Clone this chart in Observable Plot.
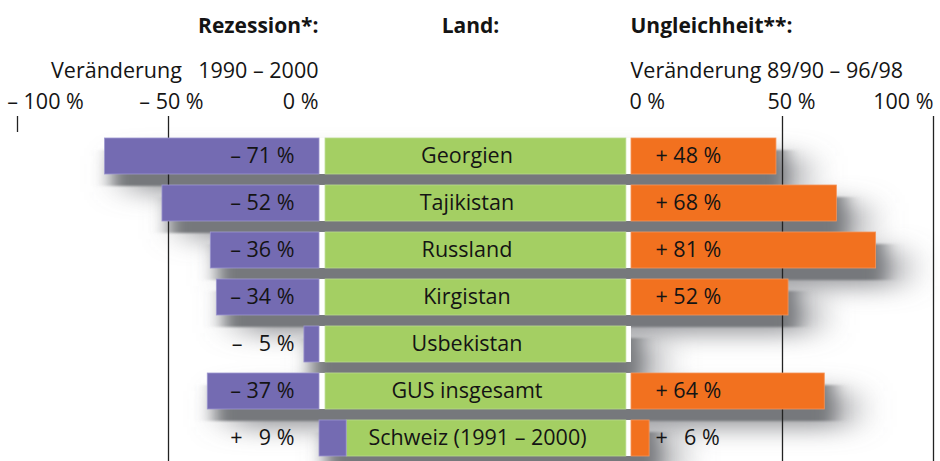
<!DOCTYPE html>
<html>
<head>
<meta charset="utf-8">
<script src="https://cdn.jsdelivr.net/npm/d3@7"></script>
<script src="https://cdn.jsdelivr.net/npm/@observablehq/plot@0.6"></script>
<style>
  html, body { margin: 0; padding: 0; background: #fff; }
</style>
</head>
<body>
<div id="chart"></div>
<script>
// ---- data ----
const countries = ["Georgien", "Tajikistan", "Russland", "Kirgistan", "Usbekistan", "GUS insgesamt", "Schweiz (1991 – 2000)"];
const recession = [-71, -52, -36, -34, -5, -37, 9];
const inequality = [48, 68, 81, 52, null, 64, 6];
const recessionLabels = ["– 71 %", "– 52 %", "– 36 %", "– 34 %", "–\u2002 5 %", "– 37 %", "+\u2002 9 %"];
const inequalityLabels = ["+ 48 %", "+ 68 %", "+ 81 %", "+ 52 %", null, "+ 64 %", "+\u2002 6 %"];
const leftTicks = [-100, -50, 0];
const leftTickLabels = ["– 100 %", "– 50 %", "0 %"];
const rightTicks = [0, 50, 100];
const rightTickLabels = ["0 %", "50 %", "100 %"];
const headerLeft = "Rezession*:";
const headerMid = "Land:";
const headerRight = "Ungleichheit**:";
const subLeft = "Veränderung\u2002 1990 – 2000";
const subRight = "Veränderung 89/90 – 96/98";

// ---- layout ----
const RIGHT0 = 103.3;          // origin of right panel in x units
const GREEN_START = 2, GREEN_END = 101.6;
const PURPLE = "#746bb2", GREEN = "#a4cf63", ORANGE = "#f2711f", INK = "#141414";
const FONT = "'Open Sans', sans-serif";

const rows = countries.map((c, i) => ({
  country: c, rec: recession[i], ineq: inequality[i],
  recLabel: recessionLabels[i], ineqLabel: inequalityLabels[i]
}));
const withIneq = rows.filter(d => d.ineq != null);
const greenX1 = d => d.rec > 0 ? d.rec : GREEN_START;
const rowStart = d => Math.min(d.rec, 0);
const rowEnd = d => d.ineq != null ? RIGHT0 + d.ineq : RIGHT0;

const leftTickData = leftTicks.map((v, i) => ({x: v, label: leftTickLabels[i]}));
const rightTickData = rightTicks.map((v, i) => ({x: RIGHT0 + v, label: rightTickLabels[i]}));
const leftTickAnchor = ["middle", "middle", "end"], leftTickDx = [28, 3, -1];
const rightTickAnchor = ["start", "middle", "end"], rightTickDx = [-2, 9, 0];

const svg = Plot.plot({
  width: 940,
  height: 461,
  marginTop: 116,
  marginBottom: 0,
  marginLeft: 0,
  marginRight: 0,
  style: {fontFamily: FONT, background: "#fff", overflow: "visible"},
  x: {domain: [-100, 200 + RIGHT0 - 100], range: [17, 933], axis: null},
  y: {domain: countries, range: [130.25, 462.75], paddingInner: 0.242, paddingOuter: 0.121, axis: null},
  marks: [
    // shadows
    Plot.barX(rows, {x1: rowStart, x2: rowEnd, y: "country", fill: "#7b7d81", fillOpacity: 0.85,
      dx: 24, dy: 18, ariaDescription: "shadow-b"}),
    Plot.barX(rows, {x1: rowStart, x2: rowEnd, y: "country", fill: "#76787c",
      dx: 8, dy: 12, ariaDescription: "shadow-a"}),
    // grid lines
    Plot.ruleX([-100], {stroke: "#222", strokeWidth: 1.3, insetBottom: 461 - 116 - 16}),
    Plot.ruleX([-50, RIGHT0 + 50, RIGHT0 + 100], {stroke: "#222", strokeWidth: 1.3}),
    // white base under middle column
    Plot.barX(rows, {x1: 0, x2: RIGHT0, y: "country", fill: "#fff"}),
    // green country bars
    Plot.barX(rows, {x1: greenX1, x2: GREEN_END, y: "country", fill: GREEN, stroke: "#b9da8c", strokeWidth: 0.8}),
    // recession bars
    Plot.barX(rows, {x1: d => Math.min(d.rec, 0), x2: d => Math.max(d.rec, 0), y: "country",
      fill: PURPLE, stroke: "#9d97cf", strokeWidth: 0.8}),
    // inequality bars
    Plot.barX(withIneq, {x1: RIGHT0, x2: d => RIGHT0 + d.ineq, y: "country",
      fill: ORANGE, stroke: "#f5955a", strokeWidth: 0.8}),
    // labels
    Plot.text(rows, {x: 0, y: "country", text: "recLabel", textAnchor: "end", dx: -25,
      fontSize: 21.5, fill: INK}),
    Plot.text(withIneq, {x: RIGHT0, y: "country", text: "ineqLabel", textAnchor: "start", dx: 24,
      fontSize: 21.5, fill: INK}),
    Plot.text(rows, {x: d => (greenX1(d) + GREEN_END) / 2, y: "country", text: "country", dx: -9,
      fontSize: 21.5, fill: INK}),
    // headers
    Plot.text([headerLeft], {x: 0, text: d => d, frameAnchor: "top", lineAnchor: "bottom", dy: -84,
      textAnchor: "end", dx: -1, fontSize: 21, fontWeight: "bold", fill: INK}),
    Plot.text([headerMid], {x: 50, text: d => d, frameAnchor: "top", lineAnchor: "bottom", dy: -84,
      textAnchor: "middle", fontSize: 21, fontWeight: "bold", fill: INK}),
    Plot.text([headerRight], {x: RIGHT0, text: d => d, frameAnchor: "top", lineAnchor: "bottom", dy: -84,
      textAnchor: "start", dx: -1, fontSize: 21, fontWeight: "bold", fill: INK}),
    Plot.text([subLeft], {x: 0, text: d => d, frameAnchor: "top", lineAnchor: "bottom", dy: -39,
      textAnchor: "end", dx: -1, fontSize: 21.5, fill: INK}),
    Plot.text([subRight], {x: RIGHT0, text: d => d, frameAnchor: "top", lineAnchor: "bottom", dy: -39,
      textAnchor: "start", dx: -1, fontSize: 21.5, fill: INK}),
    // tick labels
    ...leftTickData.map((t, i) => Plot.text([t], {x: "x", text: "label", frameAnchor: "top", lineAnchor: "bottom",
      dy: -8, textAnchor: leftTickAnchor[i], dx: leftTickDx[i], fontSize: 21.5, fill: INK})),
    ...rightTickData.map((t, i) => Plot.text([t], {x: "x", text: "label", frameAnchor: "top", lineAnchor: "bottom",
      dy: -8, textAnchor: rightTickAnchor[i], dx: rightTickDx[i], fontSize: 21.5, fill: INK}))
  ]
});

// soft drop-shadow filters
const ns = "http://www.w3.org/2000/svg";
const defs = document.createElementNS(ns, "defs");
defs.innerHTML =
  '<filter id="shA" x="-10%" y="-20%" width="120%" height="140%"><feGaussianBlur stdDeviation="9 1"/></filter>' +
  '<filter id="shB" x="-10%" y="-20%" width="120%" height="140%"><feGaussianBlur stdDeviation="20 12"/></filter>';
svg.insertBefore(defs, svg.firstChild);
svg.querySelectorAll('[aria-description="shadow-a"]').forEach(g => g.setAttribute("filter", "url(#shA)"));
svg.querySelectorAll('[aria-description="shadow-b"]').forEach(g => g.setAttribute("filter", "url(#shB)"));

document.getElementById("chart").appendChild(svg);
</script>
</body>
</html>
